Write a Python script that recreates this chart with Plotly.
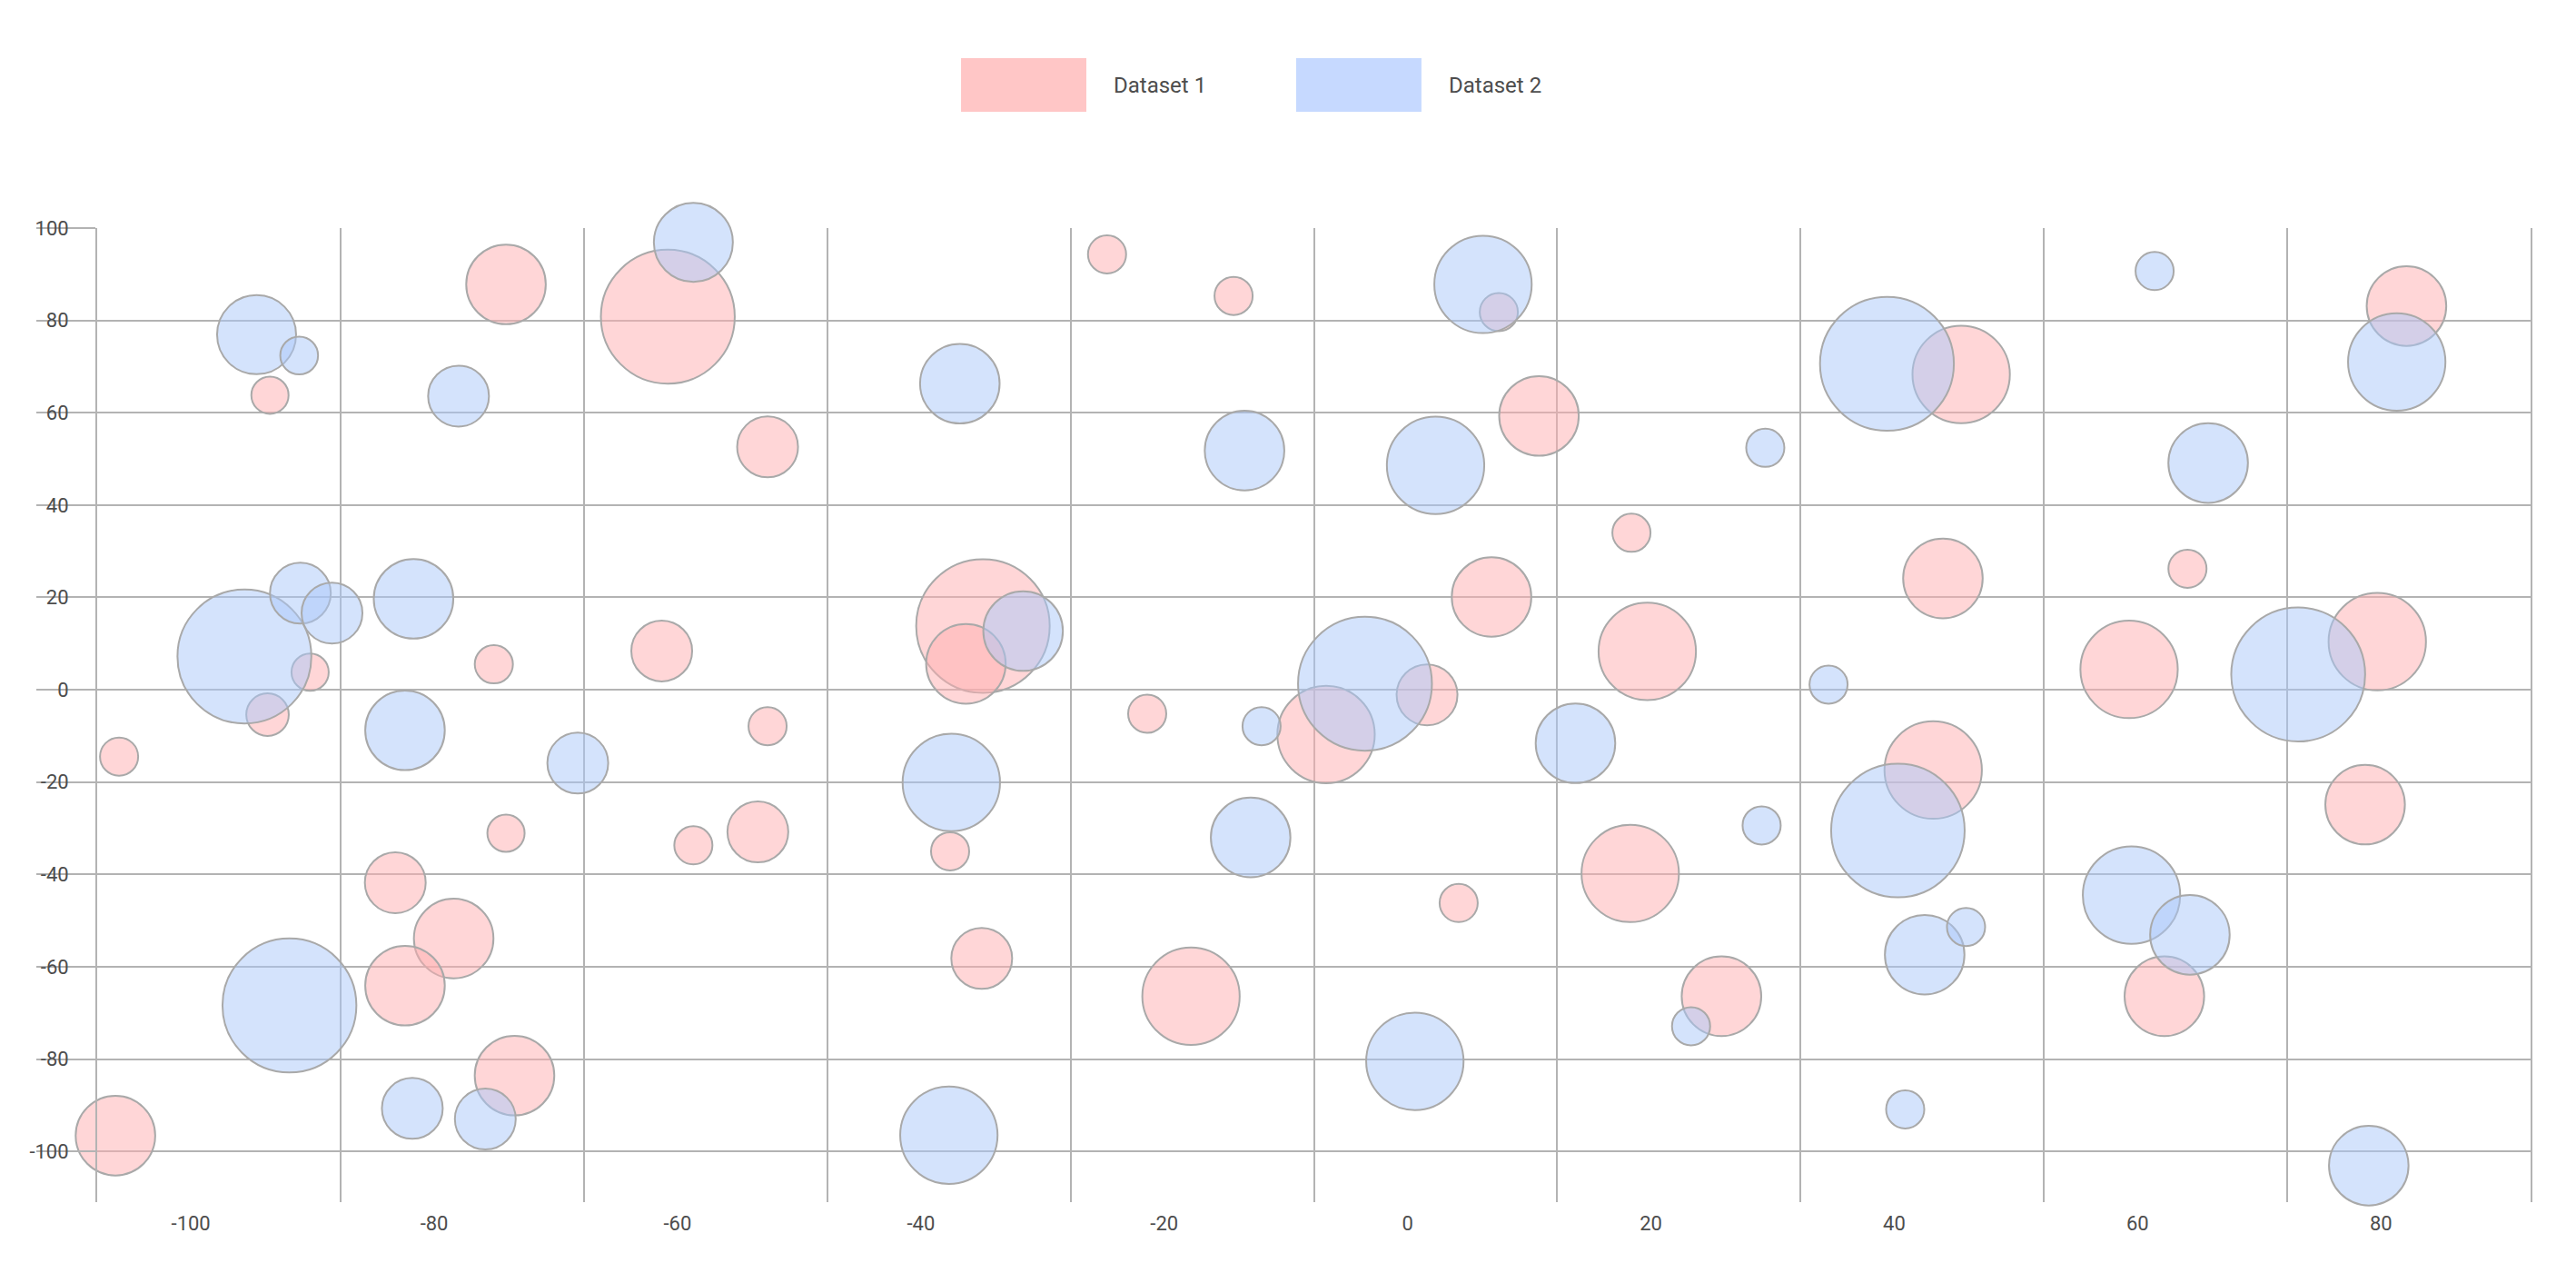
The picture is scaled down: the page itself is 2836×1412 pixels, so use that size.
import plotly.graph_objects as go

# Dataset 1 (pink)
x1 = [-105.9, -106.2, -93.5, -90.2, -93.7, -74.1, -60.8, -52.6, -75.1, -61.3, -52.6, -74.1,
      -58.7, -53.4, -83.2, -78.4, -82.4, -73.4, -24.7, -14.3, -34.9, -36.3, -21.4, -37.6,
      -35.0, -17.8, 7.5, 10.8, 18.4, 6.9, 19.7, 1.6, -6.7, 18.3, 4.2, 25.8, 45.5, 44.0,
      43.2, 64.1, 59.3, 79.7, 82.1, 92.4, 78.7, 62.2]
y1 = [-14.5, -96.6, 63.8, 3.8, -5.4, 87.8, 80.8, 52.6, 5.5, 8.4, -7.9, -31.1,
      -33.7, -30.8, -41.8, -53.9, -64.1, -83.6, 94.3, 85.3, 13.8, 5.6, -5.2, -35.0,
      -58.2, -66.4, 81.8, 59.3, 34.0, 20.1, 8.3, -1.1, -9.7, -39.8, -46.2, -66.4, 68.3, 24.1,
      -17.4, 26.2, 4.4, 10.4, 83.1, -16.3, -24.9, -66.4]
r1 = [21, 43.8, 20.5, 20.5, 23.4, 43.8, 73.7, 33.5, 21, 33.5, 21, 20.5,
      21, 33.5, 33.5, 43.8, 43.8, 43.8, 21, 21, 73.5, 43.8, 21, 21,
      33.5, 53.6, 21, 43.8, 21, 43.8, 53.6, 33.5, 53.6, 53.6, 21, 43.8, 53.6, 43.8,
      53.6, 21, 53.6, 53.6, 43.8, 53.6, 43.8, 43.8]

# Dataset 2 (blue)
x2 = [-94.6, -91.1, -78.0, -58.7, -95.6, -91.0, -88.4, -81.7, -82.4, -68.2, -107.8, -91.9,
      -81.8, -75.8, -36.8, -13.4, -31.6, -12.0, -37.5, -12.9, -37.7, 6.2, 39.4, 2.3,
      29.4, -3.5, 34.6, 13.8, 40.3, 29.1, 23.3, 0.6, 42.5, 40.9, 61.4, 81.3, 65.8, 73.2,
      59.5, 64.3, 45.9, 79.0]
y2 = [76.9, 72.4, 63.6, 96.9, 7.2, 20.9, 16.6, 19.7, -8.8, -15.9, -24.8, -68.4,
      -90.7, -93.0, 66.3, 51.8, 12.7, -7.9, -20.1, -32.0, -96.5, 87.8, 70.6, 48.6,
      52.4, 1.3, 1.1, -11.6, -30.5, -29.4, -72.9, -80.5, -57.4, -90.9, 90.7, 71.0, 49.1, 3.3,
      -44.5, -53.1, -51.4, -103.1]
r2 = [43.5, 20.8, 33.5, 43.5, 73.7, 33.5, 33.5, 43.8, 43.8, 33.5, 43.8, 73.7,
      33.5, 33.5, 43.8, 43.8, 43.8, 21, 53.6, 43.8, 53.6, 53.6, 73.7, 53.6,
      21, 73.7, 21, 43.8, 73.5, 21, 21, 53.6, 43.8, 21, 21, 53.6, 43.8, 73.7,
      53.6, 43.8, 21, 43.8]

x_ticks = [-100, -80, -60, -40, -20, 0, 20, 40, 60, 80]
x_grid = [-107.7, -87.7, -67.7, -47.7, -27.7, -7.7, 12.3, 32.3, 52.3, 72.3, 92.3]
y_ticks = [-100, -80, -60, -40, -20, 0, 20, 40, 60, 80, 100]

GRID = "#b3b3b3"
EDGE = "#a9a9a9"
TEXT = "#4d4d4d"

fig = go.Figure()
datasets = [
    ("Dataset 1", x1, y1, r1, "rgba(255,173,175,0.5)"),
    ("Dataset 2", x2, y2, r2, "rgba(170,199,250,0.5)"),
]
for name, xs, ys, rs, fill in datasets:
    fig.add_trace(go.Scatter(
        x=xs, y=ys, name=name, mode="markers",
        marker=dict(size=[2 * r for r in rs], color=fill, opacity=1,
                    line=dict(color=EDGE, width=2)),
        cliponaxis=False, hoverinfo="skip", showlegend=False,
    ))

# legend drawn by hand: wide colour boxes like the original
legend_items = [("Dataset 1", "#ffc6c6", 0.355), ("Dataset 2", "#c6d9ff", 0.4927)]
for label, col, x0 in legend_items:
    fig.add_shape(type="rect", xref="paper", yref="paper",
                  x0=x0, x1=x0 + 0.0515, y0=1.1194, y1=1.1744,
                  fillcolor=col, line=dict(width=0))
    fig.add_annotation(xref="paper", yref="paper", x=x0 + 0.0619, y=1.1469,
                       text=label, showarrow=False, xanchor="left", yanchor="middle",
                       font=dict(size=24, color=TEXT))

# the page body adds 8px, so the figure is 8px smaller than the window
fig.update_layout(
    width=2828, height=1404,
    margin=dict(l=99, r=50, t=243, b=89),
    plot_bgcolor="white", paper_bgcolor="white",
    font=dict(family="Roboto", size=22, color=TEXT),
    xaxis=dict(
        range=[-107.7, 92.3], tickmode="array", tickvals=x_ticks,
        ticktext=[str(v) for v in x_ticks],
        showgrid=False, zeroline=False, ticks="", showline=False,
        ticklabelstandoff=8,
        minor=dict(tickmode="array", tickvals=x_grid, showgrid=True,
                   gridcolor=GRID, gridwidth=2, ticks=""),
    ),
    yaxis=dict(
        range=[-111, 100], tickmode="array", tickvals=y_ticks,
        ticktext=[str(v) for v in y_ticks],
        showgrid=True, gridcolor=GRID, gridwidth=2, zeroline=False,
        ticks="outside", ticklen=65, tickwidth=2, tickcolor=GRID,
        showline=True, mirror=True, linecolor=GRID, linewidth=2,
        ticklabelstandoff=-40,
    ),
)

fig.write_html("out.html")
